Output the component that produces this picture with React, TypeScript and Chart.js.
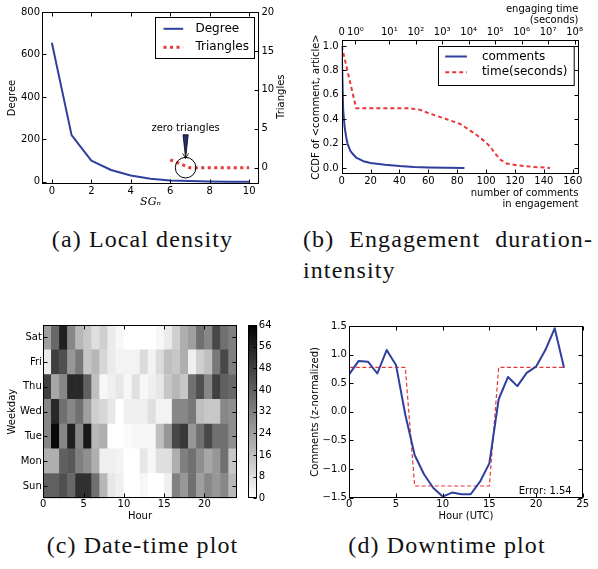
import React, { useEffect, useRef } from 'react';
import { Chart, registerables } from 'chart.js';

Chart.register(...registerables);

const SANS = "'DejaVu Sans', 'Bitstream Vera Sans', sans-serif";
const SERIF = "'Liberation Serif', 'DejaVu Serif', serif";
const BLUE = '#2f3f9e';
const RED = '#e8363a';

Chart.defaults.font.family = SANS;
Chart.defaults.font.size = 10;
Chart.defaults.color = '#000';

// ---------------- (a) Local density ----------------
const sgLevels = [0, 1, 2, 3, 4, 5, 6, 7, 8, 9, 10];
const degreeValues = [655, 220, 100, 56, 30, 15, 6, 4, 2, 1, 1];
const triangleLevels = [6, 7, 8, 9, 10];
const triangleValues = [1, 0, 0, 0, 0];
const aXTicks = [0, 2, 4, 6, 8, 10];
const aDegreeTicks = [0, 200, 400, 600, 800];
const aTriangleTicks = [0, 5, 10, 15, 20];

// ---------------- (b) Engagement duration-intensity ----------------
const commentCounts = [0, 1, 2, 3, 4, 6, 8, 10, 15, 20, 30, 40, 50, 60, 85];
const commentCcdf = [1.0, 0.48, 0.34, 0.26, 0.2, 0.14, 0.11, 0.085, 0.055, 0.04, 0.025, 0.015, 0.008, 0.004, 0.0];
const timeCurveX = [0, 10, 47, 54, 63.5, 72.7, 82, 86.7, 93.5, 99.3, 102.8, 106.2, 109.7, 114.3, 121.3, 132.8, 144.3];
const timeCcdf = [1.0, 0.49, 0.49, 0.477, 0.436, 0.4, 0.361, 0.325, 0.27, 0.215, 0.174, 0.119, 0.069, 0.036, 0.022, 0.008, 0.0];
const bXTicks = [0, 20, 40, 60, 80, 100, 120, 140, 160];
const bYTicks = [0, 0.2, 0.4, 0.6, 0.8, 1.0];
const bTopTickPos = [0, 0.52, 1.8, 2.8, 3.8, 4.8, 5.8, 6.8, 7.8, 8.8];
const bTopTickLabels = ['0', '10⁰', '10¹', '10²', '10³', '10⁴', '10⁵', '10⁶', '10⁷', '10⁸'];

// ---------------- (c) Date-time plot ----------------
const weekdayNames = ['Sun', 'Mon', 'Tue', 'Wed', 'Thu', 'Fri', 'Sat'];
const sunCounts = [40, 40, 44, 38, 52, 52, 36, 18, 6, 4, 0, 0, 2, 0, 0, 4, 32, 26, 36, 24, 30, 26, 30, 18];
const monCounts = [20, 20, 40, 42, 32, 28, 20, 4, 4, 3, 0, 0, 6, 2, 8, 8, 20, 32, 36, 28, 22, 26, 36, 14];
const tueCounts = [30, 62, 30, 56, 30, 58, 18, 20, 0, 0, 1, 2, 2, 2, 16, 26, 46, 50, 26, 36, 46, 36, 36, 28];
const wedCounts = [30, 54, 36, 30, 36, 24, 12, 10, 6, 0, 4, 4, 4, 8, 3, 3, 30, 30, 34, 16, 14, 14, 30, 28];
const thuCounts = [48, 22, 30, 54, 54, 40, 16, 2, 4, 6, 2, 8, 2, 4, 6, 14, 18, 14, 36, 44, 30, 48, 40, 38];
const friCounts = [5, 48, 44, 26, 34, 14, 18, 10, 5, 3, 3, 3, 9, 3, 9, 16, 14, 20, 4, 12, 16, 34, 46, 32];
const satCounts = [24, 38, 56, 30, 18, 14, 8, 12, 5, 2, 0, 0, 0, 0, 2, 5, 12, 20, 24, 36, 30, 46, 36, 32];
const weekdayRows = [sunCounts, monCounts, tueCounts, wedCounts, thuCounts, friCounts, satCounts];
const dayHours = [0, 1, 2, 3, 4, 5, 6, 7, 8, 9, 10, 11, 12, 13, 14, 15, 16, 17, 18, 19, 20, 21, 22, 23];
const cXTicks = [0, 5, 10, 15, 20];
const cYTicks = [0.5, 1.5, 2.5, 3.5, 4.5, 5.5, 6.5];
const cbMin = 0;
const cbMax = 64;
const cbTicks = [0, 8, 16, 24, 32, 40, 48, 56, 64];

// ---------------- (d) Downtime plot ----------------
const utcHours = [0, 1, 2, 3, 4, 5, 6, 7, 8, 9, 10, 11, 12, 13, 14, 15, 16, 17, 18, 19, 20, 21, 22, 23];
const zComments = [0.66, 0.89, 0.876, 0.67, 1.08, 0.82, -0.05, -0.755, -1.09, -1.33, -1.48, -1.41, -1.44, -1.44, -1.22, -0.9, 0.22, 0.61, 0.45, 0.68, 0.79, 1.08, 1.46, 0.77];
const stepFit = [0.777, 0.777, 0.777, 0.777, 0.777, 0.777, 0.777, -1.296, -1.296, -1.296, -1.296, -1.296, -1.296, -1.296, -1.296, -1.296, 0.777, 0.777, 0.777, 0.777, 0.777, 0.777, 0.777, 0.777];
const fitError = 1.54;
const dXTicks = [0, 5, 10, 15, 20, 25];
const dYTicks = [-1.5, -1.0, -0.5, 0.0, 0.5, 1.0, 1.5];

// ---------------- helpers ----------------
function grayFor(v: number) {
  const g = Math.round(255 * (1 - (v - cbMin) / (cbMax - cbMin)));
  return `rgb(${g},${g},${g})`;
}

type AxisOpts = {
  position: 'left' | 'right' | 'top' | 'bottom';
  min: number;
  max: number;
  ticks: number[];
  labels?: string[];
  fmt?: (v: number) => string;
  size: number;
  pad?: number;
  title?: { text: string | string[]; padTop?: number; padBottom?: number; align?: string; font?: any };
};

function axis(o: AxisOpts): any {
  const horizontal = o.position === 'top' || o.position === 'bottom';
  return {
    type: 'linear',
    position: o.position,
    min: o.min,
    max: o.max,
    offset: false,
    grid: { display: false, drawTicks: false, offset: false },
    border: { display: false },
    ticks: {
      padding: o.pad ?? 2,
      color: '#000',
      font: { family: SANS, size: 10 },
      autoSkip: false,
      maxRotation: 0,
      minRotation: 0,
      callback: (v: number, i: number) => (o.labels ? o.labels[i] : o.fmt ? o.fmt(v) : String(v)),
    },
    title: o.title
      ? {
          display: true,
          text: o.title.text,
          color: '#000',
          align: o.title.align ?? 'center',
          font: o.title.font ?? { family: SANS, size: 10, lineHeight: 1.2 },
          padding: { top: o.title.padTop ?? 0, bottom: o.title.padBottom ?? 0 },
        }
      : { display: false },
    afterBuildTicks: (s: any) => {
      s.ticks = o.ticks.map((value) => ({ value }));
    },
    afterFit: (s: any) => {
      if (horizontal) s.height = o.size;
      else s.width = o.size;
    },
  };
}

const fmt1 = (v: number) => (v < 0 ? '−' : '') + Math.abs(v).toFixed(1);

// matplotlib-like frame with inward ticks
const framePlugin: any = {
  id: 'mplFrame',
  afterDatasetsDraw(chart: any, _a: any, opts: any) {
    const { ctx, chartArea } = chart;
    const L = Math.round(chartArea.left) + 0.5;
    const R = Math.round(chartArea.right) - 0.5;
    const T = Math.round(chartArea.top) + 0.5;
    const B = Math.round(chartArea.bottom) - 0.5;
    const len = opts.tickLength ?? 4;
    ctx.save();
    ctx.strokeStyle = '#000';
    ctx.lineWidth = 1;
    ctx.setLineDash([]);
    ctx.beginPath();
    Object.values(chart.scales).forEach((s: any) => {
      if (!s.options.display) return;
      const pos = s.options.position;
      const horiz = pos === 'top' || pos === 'bottom';
      const sides: string[] = [pos];
      if (horiz && opts.mirrorX) sides.push(pos === 'top' ? 'bottom' : 'top');
      if (!horiz && opts.mirrorY) sides.push(pos === 'left' ? 'right' : 'left');
      (s.ticks || []).forEach((t: any) => {
        const p = Math.round(s.getPixelForValue(t.value)) + 0.5;
        sides.forEach((side) => {
          if (side === 'bottom') { ctx.moveTo(p, B); ctx.lineTo(p, B - len); }
          if (side === 'top') { ctx.moveTo(p, T); ctx.lineTo(p, T + len); }
          if (side === 'left') { ctx.moveTo(L, p); ctx.lineTo(L + len, p); }
          if (side === 'right') { ctx.moveTo(R, p); ctx.lineTo(R - len, p); }
        });
      });
    });
    ctx.stroke();
    ctx.strokeRect(L, T, R - L, B - T);
    ctx.restore();
  },
};

// boxed legend built from datasets
const boxLegendPlugin: any = {
  id: 'boxLegend',
  afterDraw(chart: any, _a: any, o: any) {
    if (!o || !o.width) return;
    const { ctx, chartArea } = chart;
    const x = Math.round(chartArea.right - o.right - o.width) + 0.5;
    const y = Math.round(chartArea.top + o.top) + 0.5;
    ctx.save();
    ctx.fillStyle = '#fff';
    ctx.fillRect(x, y, o.width, o.height);
    ctx.strokeStyle = '#000';
    ctx.lineWidth = 1;
    ctx.setLineDash([]);
    ctx.strokeRect(x, y, o.width, o.height);
    chart.data.datasets.forEach((ds: any, i: number) => {
      const cy = y + o.firstRow + i * o.rowGap;
      ctx.beginPath();
      ctx.strokeStyle = ds.borderColor;
      ctx.lineWidth = ds.borderWidth;
      ctx.setLineDash(ds.borderDash || []);
      ctx.lineCap = 'butt';
      ctx.moveTo(x + o.lineStart, cy);
      ctx.lineTo(x + o.lineEnd, cy);
      ctx.stroke();
      ctx.setLineDash([]);
      ctx.fillStyle = '#000';
      ctx.font = `12px ${SANS}`;
      ctx.textAlign = 'left';
      ctx.textBaseline = 'middle';
      ctx.fillText(ds.label, x + o.textX, cy);
    });
    ctx.restore();
  },
};

// "zero triangles" annotation for panel (a)
const zeroTrianglesPlugin: any = {
  id: 'zeroTriangles',
  afterDatasetsDraw(chart: any, _a: any, o: any) {
    if (!o || o.text === undefined) return;
    const { ctx } = chart;
    const xs = chart.scales.x;
    const ys = chart.scales.y1;
    const cx = xs.getPixelForValue(o.x);
    const cy = ys.getPixelForValue(o.y);
    const ty = ys.getPixelForValue(o.textY);
    ctx.save();
    ctx.fillStyle = '#000';
    ctx.font = `10px ${SANS}`;
    ctx.textAlign = 'center';
    ctx.textBaseline = 'middle';
    ctx.fillText(o.text, cx, ty);
    ctx.beginPath();
    ctx.strokeStyle = '#000';
    ctx.lineWidth = 1;
    ctx.arc(cx, cy, o.r, 0, Math.PI * 2);
    ctx.stroke();
    const top = ty + 6;
    const tip = cy - o.r + 1;
    ctx.beginPath();
    ctx.moveTo(cx - 2.6, top);
    ctx.lineTo(cx + 2.6, top);
    ctx.lineTo(cx, tip);
    ctx.closePath();
    ctx.fillStyle = '#22306e';
    ctx.fill();
    ctx.strokeStyle = '#000';
    ctx.lineWidth = 0.8;
    ctx.stroke();
    ctx.beginPath();
    ctx.moveTo(cx - 3, tip - 5);
    ctx.lineTo(cx, tip);
    ctx.lineTo(cx + 3, tip - 5);
    ctx.stroke();
    ctx.restore();
  },
};

// rotated label on the right side (reads bottom to top)
const sideLabelPlugin: any = {
  id: 'sideLabel',
  afterDraw(chart: any, _a: any, o: any) {
    if (!o || !o.text) return;
    const { ctx, chartArea } = chart;
    ctx.save();
    ctx.translate(chartArea.right + o.dx, (chartArea.top + chartArea.bottom) / 2 + (o.dy ?? 0));
    ctx.rotate(-Math.PI / 2);
    ctx.fillStyle = '#000';
    ctx.font = `10px ${SANS}`;
    ctx.textAlign = 'center';
    ctx.textBaseline = 'middle';
    ctx.fillText(o.text, 0, 0);
    ctx.restore();
  },
};

// corner note (Error text)
const cornerNotePlugin: any = {
  id: 'cornerNote',
  afterDraw(chart: any, _a: any, o: any) {
    if (!o || !o.text) return;
    const { ctx, chartArea } = chart;
    ctx.save();
    ctx.fillStyle = '#000';
    ctx.font = `10px ${SANS}`;
    ctx.textAlign = 'right';
    ctx.textBaseline = 'middle';
    ctx.fillText(o.text, chartArea.right - o.dx, chartArea.bottom - o.dy);
    ctx.restore();
  },
};

const basePlugins = (extra: any) => ({
  legend: { display: false },
  tooltip: { enabled: false },
  ...extra,
});

// ---------------- chart configs ----------------
function configA(): any {
  return {
    type: 'line',
    data: {
      datasets: [
        {
          label: 'Degree',
          data: sgLevels.map((x, i) => ({ x, y: degreeValues[i] })),
          yAxisID: 'y',
          borderColor: BLUE,
          borderWidth: 2,
          borderJoinStyle: 'round',
          pointRadius: 0,
          tension: 0,
        },
        {
          label: 'Triangles',
          data: triangleLevels.map((x, i) => ({ x, y: triangleValues[i] })),
          yAxisID: 'y1',
          borderColor: RED,
          borderWidth: 3,
          borderDash: [3, 3.5],
          pointRadius: 0,
          tension: 0,
        },
      ],
    },
    options: {
      animation: false,
      responsive: false,
      events: [],
      layout: { padding: { top: 12, left: 0, right: 0, bottom: 0 } },
      plugins: basePlugins({
        mplFrame: { mirrorX: true, mirrorY: false },
        boxLegend: { right: 5, top: 5, width: 99, height: 41, firstRow: 11.3, rowGap: 18.4, lineStart: 8, lineEnd: 27.7, textX: 40 },
        zeroTriangles: { text: 'zero triangles', x: 6.78, y: 0, textY: 5, r: 10.3 },
        sideLabel: { text: 'Triangles', dx: 22.7, dy: -1.3 },
      }),
      scales: {
        x: axis({ position: 'bottom', min: -0.5, max: 10.5, ticks: aXTicks, size: 28, pad: 1,
          title: { text: 'SGₙ', padBottom: 3, font: { family: "'DejaVu Serif', serif", style: 'italic', size: 11, lineHeight: 1.2 } } }),
        y: axis({ position: 'left', min: -10, max: 800, ticks: aDegreeTicks, size: 42, pad: 2,
          title: { text: 'Degree', padTop: 6.5 } }),
        y1: axis({ position: 'right', min: -2.1, max: 20, ticks: aTriangleTicks, size: 41, pad: 2.5 }),
      },
    },
    plugins: [framePlugin, boxLegendPlugin, zeroTrianglesPlugin, sideLabelPlugin],
  };
}

function configB(): any {
  return {
    type: 'line',
    data: {
      datasets: [
        {
          label: 'comments',
          data: commentCounts.map((x, i) => ({ x, y: commentCcdf[i] })),
          xAxisID: 'x',
          borderColor: BLUE,
          borderWidth: 2,
          borderJoinStyle: 'round',
          pointRadius: 0,
          tension: 0,
        },
        {
          label: 'time(seconds)',
          data: timeCurveX.map((x, i) => ({ x, y: timeCcdf[i] })),
          xAxisID: 'x',
          borderColor: RED,
          borderWidth: 2,
          borderDash: [4, 3],
          pointRadius: 0,
          tension: 0,
        },
      ],
    },
    options: {
      animation: false,
      responsive: false,
      events: [],
      layout: { padding: { top: 0, left: 0, right: 19.5, bottom: 0 } },
      plugins: basePlugins({
        mplFrame: { mirrorX: false, mirrorY: true },
        boxLegend: { right: 4.5, top: 6, width: 135.7, height: 39, firstRow: 10, rowGap: 15.7, lineStart: 6.7, lineEnd: 28.4, textX: 43.4 },
      }),
      scales: {
        x: axis({ position: 'bottom', min: 0, max: 164, ticks: bXTicks, size: 41, pad: 1.7,
          title: { text: ['number of comments', 'in engagement'], align: 'end', padBottom: 4.5, font: { family: SANS, size: 10, lineHeight: 1.15 } } }),
        x2: axis({ position: 'top', min: 0, max: 8.95, ticks: bTopTickPos, labels: bTopTickLabels, size: 40, pad: 1.5,
          title: { text: ['engaging time', '(seconds)'], align: 'end', padTop: 3.5, font: { family: SANS, size: 10, lineHeight: 1.15 } } }),
        y: axis({ position: 'left', min: -0.05, max: 1.05, ticks: bYTicks, fmt: fmt1, size: 41.7, pad: 3,
          title: { text: 'CCDF of <comment, article>', padTop: 10.7 } }),
      },
    },
    plugins: [framePlugin, boxLegendPlugin],
  };
}

function configC(): any {
  return {
    type: 'bar',
    data: {
      datasets: weekdayRows.map((row, r) => ({
        label: weekdayNames[r],
        data: dayHours.map((h) => ({ x: h + 0.5, y: [r, r + 1] })),
        backgroundColor: row.map(grayFor),
        borderWidth: 0,
        grouped: false,
        barPercentage: 1,
        categoryPercentage: 1,
      })),
    },
    options: {
      animation: false,
      responsive: false,
      events: [],
      layout: { padding: { top: 25, left: 0, right: 3.3, bottom: 0 } },
      plugins: basePlugins({ mplFrame: { mirrorX: true, mirrorY: true } }),
      scales: {
        x: axis({ position: 'bottom', min: 0, max: 24, ticks: cXTicks, size: 31.7, pad: 0.5,
          title: { text: 'Hour', padBottom: 7.3 } }),
        y: axis({ position: 'left', min: 0, max: 7, ticks: cYTicks, labels: weekdayNames, size: 43.3, pad: 1.5,
          title: { text: 'Weekday', padTop: 6.7 } }),
      },
    },
    plugins: [framePlugin],
  };
}

function configColorbar(): any {
  return {
    type: 'bar',
    data: {
      labels: [''],
      datasets: [
        {
          data: [[cbMin, cbMax]],
          backgroundColor: (c: any) => {
            const ch = c.chart;
            const a = ch.chartArea;
            if (!a) return '#888';
            const g = ch.ctx.createLinearGradient(0, a.bottom, 0, a.top);
            g.addColorStop(0, grayFor(cbMin));
            g.addColorStop(1, grayFor(cbMax));
            return g;
          },
          borderWidth: 0,
          barPercentage: 1,
          categoryPercentage: 1,
        },
      ],
    },
    options: {
      animation: false,
      responsive: false,
      events: [],
      layout: { padding: { top: 25, left: 8.3, right: 0, bottom: 31.7 } },
      plugins: basePlugins({ mplFrame: { mirrorX: false, mirrorY: false, tickLength: 3 } }),
      scales: {
        x: { display: false },
        y: axis({ position: 'right', min: cbMin, max: cbMax, ticks: cbTicks, size: 40.7, pad: 1.5 }),
      },
    },
    plugins: [framePlugin],
  };
}

function configD(): any {
  return {
    type: 'line',
    data: {
      datasets: [
        {
          label: 'comments',
          data: utcHours.map((x, i) => ({ x, y: zComments[i] })),
          borderColor: BLUE,
          borderWidth: 2,
          borderJoinStyle: 'round',
          pointRadius: 0,
          tension: 0,
        },
        {
          label: 'fit',
          data: utcHours.map((x, i) => ({ x, y: stepFit[i] })),
          borderColor: RED,
          borderWidth: 1.2,
          borderDash: [4, 2.5],
          pointRadius: 0,
          tension: 0,
        },
      ],
    },
    options: {
      animation: false,
      responsive: false,
      events: [],
      layout: { padding: { top: 26, left: 0, right: 15.3, bottom: 0 } },
      plugins: basePlugins({
        mplFrame: { mirrorX: true, mirrorY: true },
        cornerNote: { text: `Error: ${fitError.toFixed(2)}`, dx: 11, dy: 6.7 },
      }),
      scales: {
        x: axis({ position: 'bottom', min: 0, max: 25, ticks: dXTicks, size: 32.3, pad: 0.5,
          title: { text: 'Hour (UTC)', padBottom: 7.3 } }),
        y: axis({ position: 'left', min: -1.5, max: 1.5, ticks: dYTicks, fmt: fmt1, size: 49.3, pad: 2.5,
          title: { text: 'Comments (z-normalized)', padTop: 9.5 } }),
      },
    },
    plugins: [framePlugin, cornerNotePlugin],
  };
}

function ChartBox(props: { left: number; top: number; width: number; height: number; make: () => any }) {
  const ref = useRef<HTMLCanvasElement>(null);
  useEffect(() => {
    const chart = new Chart(ref.current as HTMLCanvasElement, props.make());
    return () => chart.destroy();
  }, []);
  return (
    <canvas
      ref={ref}
      width={props.width}
      height={props.height}
      style={{ position: 'absolute', left: props.left, top: props.top, width: props.width, height: props.height }}
    />
  );
}

const captionStyle: React.CSSProperties = {
  position: 'absolute',
  fontFamily: SERIF,
  fontSize: 24,
  lineHeight: '31px',
  letterSpacing: '1.1px',
  color: '#111',
  whiteSpace: 'nowrap',
};

export default function App() {
  return (
    <div style={{ position: 'fixed', left: 0, top: 0, width: 598, height: 569, background: '#fff', overflow: 'hidden' }}>
      <ChartBox left={0} top={0} width={300} height={212} make={configA} />
      <ChartBox left={300} top={0} width={298} height={215} make={configB} />
      <ChartBox left={0} top={300} width={240} height={230} make={configC} />
      <ChartBox left={240} top={300} width={58} height={230} make={configColorbar} />
      <ChartBox left={300} top={300} width={298} height={230} make={configD} />

      <div style={{ ...captionStyle, left: 0, width: 285, textAlign: 'center', top: 223.7 }}>(a) Local density</div>
      <div style={{ ...captionStyle, left: 303, width: 290, top: 223.7, display: 'flex', justifyContent: 'space-between' }}>
        <span>(b)</span>
        <span>Engagement</span>
        <span>duration-</span>
      </div>
      <div style={{ ...captionStyle, left: 303, top: 254.7 }}>intensity</div>
      <div style={{ ...captionStyle, left: 0, width: 285, textAlign: 'center', top: 530.4 }}>(c) Date-time plot</div>
      <div style={{ ...captionStyle, left: 300, width: 294, textAlign: 'center', top: 530.4 }}>(d) Downtime plot</div>
    </div>
  );
}
